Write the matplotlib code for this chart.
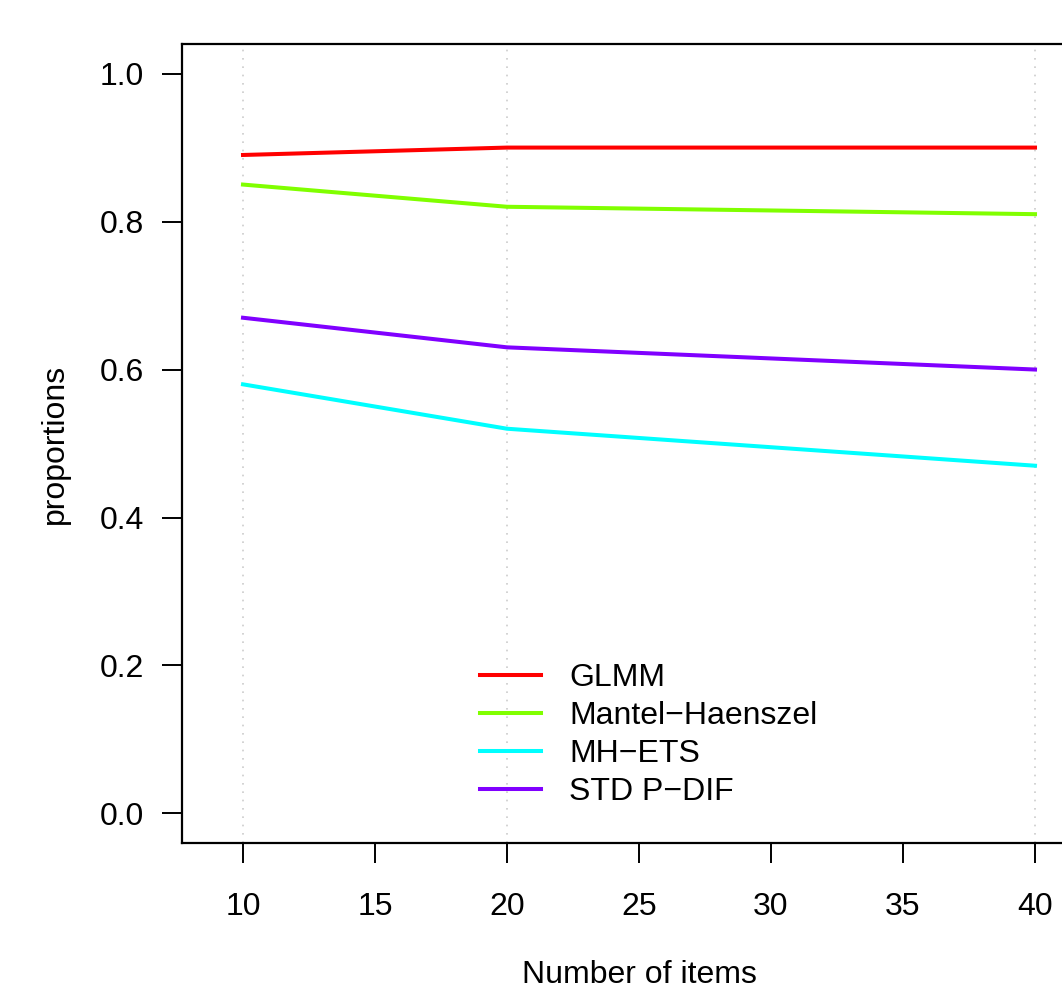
import numpy as np
import matplotlib
matplotlib.use("Agg")
import matplotlib.pyplot as plt

plt.rcParams['font.family'] = ['Liberation Sans', 'DejaVu Sans']

# data
n_items = [10, 20, 40]
glmm = [0.89, 0.90, 0.90]
mantel_haenszel = [0.85, 0.82, 0.81]
mh_ets = [0.58, 0.52, 0.47]
std_pdif = [0.67, 0.63, 0.60]

series = [
    ("GLMM", glmm, "#FF0000"),
    ("Mantel\u2212Haenszel", mantel_haenszel, "#80FF00"),
    ("MH\u2212ETS", mh_ets, "#00FFFF"),
    ("STD P\u2212DIF", std_pdif, "#8000FF"),
]

fs = 23

fig = plt.figure(figsize=(10.62, 9.91), dpi=100)
# right edge of the axes runs past the picture, as in the reference crop
ax = fig.add_axes([0.1714, 0.1493, 0.8606, 0.8063])

# dotted grid at the data x values
for x in n_items:
    ax.axvline(x, color="#cccccc", linestyle=(0, (1, 4)), linewidth=1.2, zorder=0)

for label, vals, col in series:
    ax.plot(n_items, vals, color=col, linewidth=2.9, label=label)

ax.set_xlim(7.69, 42.31)
ax.set_ylim(-0.04, 1.04)
ax.set_xticks([10, 15, 20, 25, 30, 35, 40])
ax.set_yticks([0.0, 0.2, 0.4, 0.6, 0.8, 1.0])
ax.set_yticklabels(["0.0", "0.2", "0.4", "0.6", "0.8", "1.0"])

for s in ax.spines.values():
    s.set_linewidth(1.6)
ax.tick_params(axis="both", length=14.4, width=1.4, labelsize=fs)
ax.tick_params(axis="x", pad=21)
ax.tick_params(axis="y", pad=13)

ax.set_xlabel("Number of items", fontsize=fs, labelpad=27)
ax.set_ylabel("proportions", fontsize=fs, labelpad=21)

ax.legend(loc="upper left", bbox_to_anchor=(0.326, 0.225), frameon=False,
          fontsize=fs, handlelength=1.9, handletextpad=0.9,
          labelspacing=0.25, borderpad=0, borderaxespad=0)

fig.savefig("out.png", dpi=100)
